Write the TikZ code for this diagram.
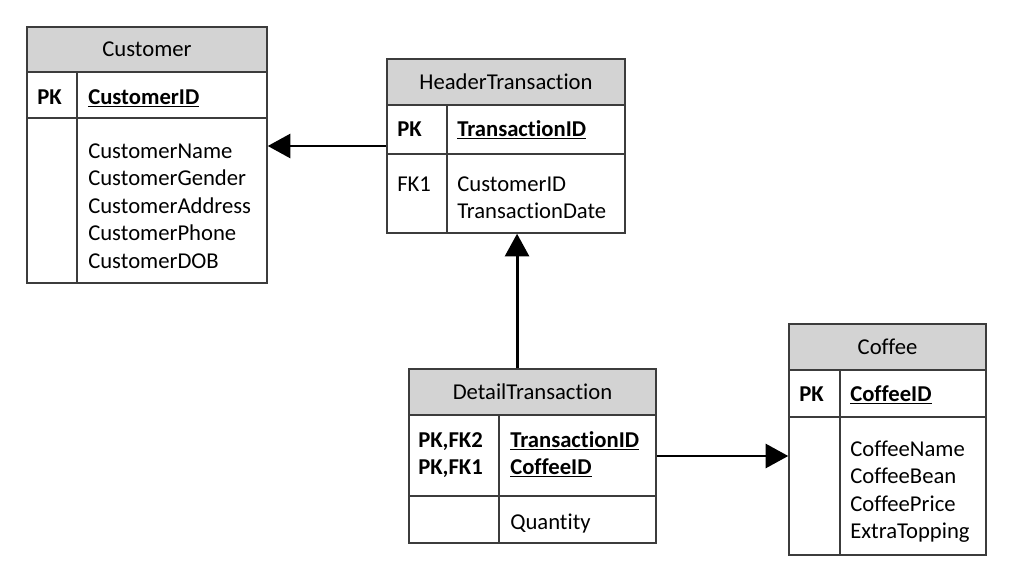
\documentclass[tikz,border=0pt]{standalone}
\usepackage{fontspec}
\setmainfont{Carlito}[Ligatures=NoCommon]
\usetikzlibrary{arrows.meta}
\definecolor{hdrgray}{RGB}{211,211,211}
\definecolor{edge}{RGB}{60,60,60}
\newcommand{\pkname}[1]{\underline{\textbf{#1}}}

\begin{document}
\begin{tikzpicture}[x=0.75pt,y=0.75pt,yscale=-1,xscale=1,
    every node/.style={font=\fontsize{17}{20}\selectfont},
    tbl/.style={draw=edge, line width=1.1pt, inner sep=0pt},
    title/.style={draw=edge, line width=1.1pt, fill=hdrgray, inner sep=0pt, text height=11pt, text depth=0pt},
    txt/.style={anchor=base west, inner sep=0pt},
    key/.style={txt, font=\fontsize{17}{20}\selectfont\bfseries},
    fk/.style={line width=2.2pt, -{Triangle[length=17pt,width=18pt]}}
]
            \useasboundingbox (0,0) rectangle (1022,578);

            % Customer
            \node [tbl, minimum width=180pt, minimum height=192pt] (cust) at (147,155) {};
            \node [title, minimum width=180pt, minimum height=33.75pt] (cust-title) at (147,49.5) {Customer};
            \draw [edge, line width=1.1pt] (27,118) -- (267,118);
            \draw [edge, line width=1.1pt] (77,72) -- (77,283);
            \node [key] (cust-pk) at (37,104) {PK};
            \node [txt] (cust-id) at (88,104) {\pkname{CustomerID}};
            \node [txt] (cust-name) at (88,158) {CustomerName};
            \node [txt] (cust-gender) at (88,185.5) {CustomerGender};
            \node [txt] (cust-address) at (88,213) {CustomerAddress};
            \node [txt] (cust-phone) at (88,240.5) {CustomerPhone};
            \node [txt] (cust-dob) at (88,268) {CustomerDOB};

            % HeaderTransaction
            \node [tbl, minimum width=178.5pt, minimum height=130.5pt] (ht) at (506,146) {};
            \node [title, minimum width=178.5pt, minimum height=34.5pt] (ht-title) at (506,82) {HeaderTransaction};
            \draw [edge, line width=1.1pt] (387,154) -- (625,154);
            \draw [edge, line width=1.1pt] (447,105) -- (447,233);
            \node [key] (ht-pk) at (397,136) {PK};
            \node [txt] (ht-id) at (457,136) {\pkname{TransactionID}};
            \node [txt] (ht-fk) at (397,191.5) {FK1};
            \node [txt] (ht-cust) at (457,191.5) {CustomerID};
            \node [txt] (ht-date) at (457,218.5) {TransactionDate};

            % DetailTransaction
            \node [tbl, minimum width=185.25pt, minimum height=130.5pt] (dt) at (532.5,456) {};
            \node [title, minimum width=185.25pt, minimum height=34.5pt] (dt-title) at (532.5,392) {DetailTransaction};
            \draw [edge, line width=1.1pt] (409,496) -- (656,496);
            \draw [edge, line width=1.1pt] (499,415) -- (499,543);
            \node [key] (dt-pk2) at (418,447) {PK,FK2};
            \node [key] (dt-pk1) at (418,474) {PK,FK1};
            \node [txt] (dt-id) at (510,447) {\pkname{TransactionID}};
            \node [txt] (dt-coffee) at (510,474) {\pkname{CoffeeID}};
            \node [txt] (dt-qty) at (510,529) {Quantity};

            % Coffee
            \node [tbl, minimum width=147.75pt, minimum height=173.25pt] (cf) at (887.5,439.5) {};
            \node [title, minimum width=147.75pt, minimum height=34.5pt] (cf-title) at (887.5,347) {Coffee};
            \draw [edge, line width=1.1pt] (789,417) -- (986,417);
            \draw [edge, line width=1.1pt] (840,370) -- (840,555);
            \node [key] (cf-pk) at (799,401) {PK};
            \node [txt] (cf-id) at (850,401) {\pkname{CoffeeID}};
            \node [txt] (cf-name) at (850,456) {CoffeeName};
            \node [txt] (cf-bean) at (850,483.5) {CoffeeBean};
            \node [txt] (cf-price) at (850,511) {CoffeePrice};
            \node [txt] (cf-topping) at (850,538.5) {ExtraTopping};

            % Relations
            \coordinate (dt-up) at ([xshift=-11.6pt]dt.north);
            \draw [fk] (ht.west) -- (ht.west -| cust.east);
            \draw [fk] (dt-up) -- (dt-up |- ht.south);
            \draw [fk] (dt.east) -- (dt.east -| cf.west);

\end{tikzpicture}
\end{document}
